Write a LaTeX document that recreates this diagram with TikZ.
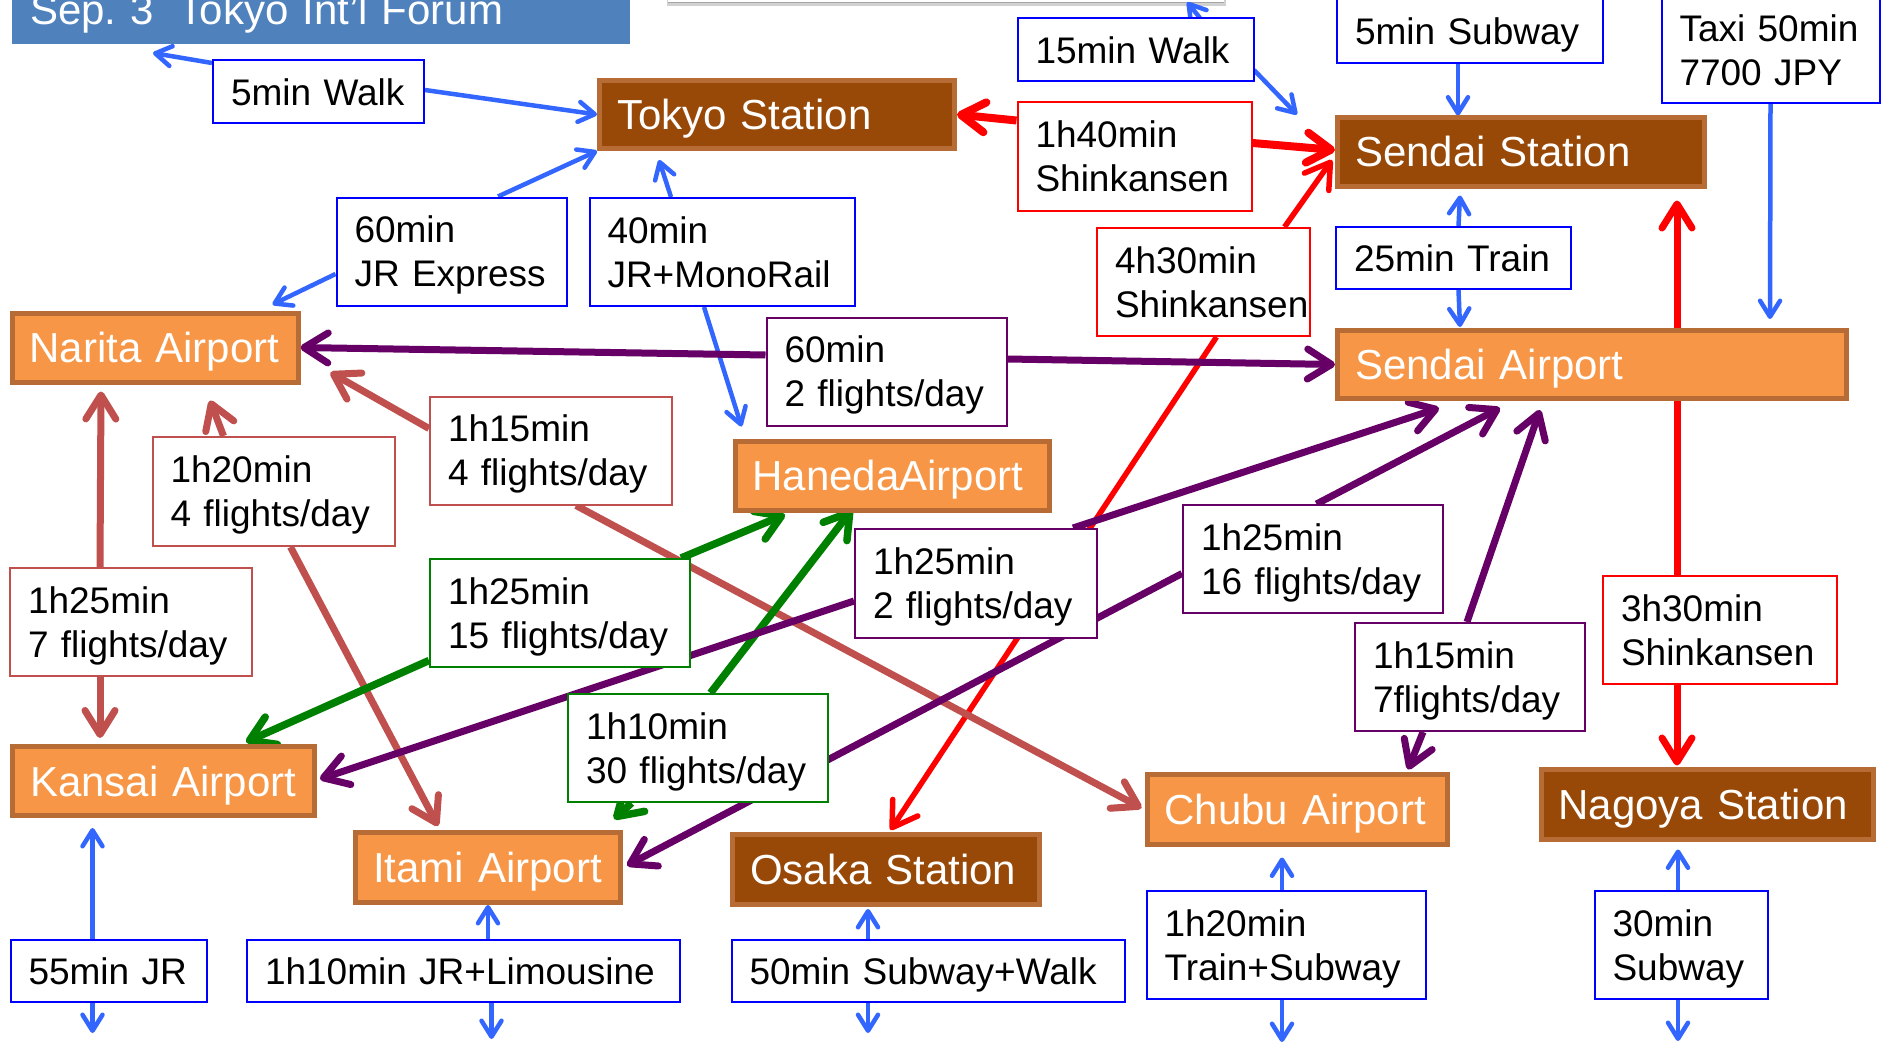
\documentclass[tikz,border=0pt]{standalone}
\usepackage{fontspec}
\setmainfont{Liberation Sans}
\usetikzlibrary{arrows.meta}
\pgfdeclarelayer{bg}
\pgfsetlayers{bg,main}
\hyphenpenalty=10000
\exhyphenpenalty=10000
\definecolor{titleblue}{RGB}{79,129,189}
\definecolor{cblue}{RGB}{51,102,255}
\definecolor{bblue}{RGB}{0,0,255}
\definecolor{orng}{RGB}{247,150,70}
\definecolor{nbord}{RGB}{182,108,52}
\definecolor{dbrown}{RGB}{152,72,7}
\definecolor{rbrown}{RGB}{192,80,77}
\definecolor{grn}{RGB}{0,128,0}
\definecolor{pur}{RGB}{102,0,102}
\definecolor{rred}{RGB}{255,0,0}
\tikzset{
  plc/.style={draw=nbord, line width=5pt, text=white, font=\fontsize{42}{50}\selectfont,
    inner xsep=17.5pt, inner ysep=0pt, align=left, text height=30pt, text depth=0pt},
  lb/.style={fill=white, line width=2pt, text=black, font=\fontsize{37}{44}\selectfont,
    inner xsep=18pt, inner ysep=0pt, align=left, text height=26.5pt, text depth=0pt},
  two/.style={text depth=44pt},
  bigtip/.style={-{Straight Barb[length=24pt,width=30pt,round]}},
  bl/.style={draw=cblue, line width=4.5pt, -{Straight Barb[length=16pt,width=20pt,round]}},
  rdk/.style={draw=rred, line width=8pt, bigtip},
  rd/.style={draw=rred, line width=5.5pt, bigtip},
  rdm/.style={draw=rred, line width=7pt, bigtip},
  rb/.style={draw=rbrown, line width=7pt, bigtip},
  gr/.style={draw=grn, line width=7.5pt, bigtip},
  pu/.style={draw=pur, line width=7pt, bigtip},
}
\newcommand\plnode[7]{\node[plc, fill=#2, minimum width=#5-5, minimum height=#6-5, text width=#5-40] (#1) at (#3,#4) {#7};}
\newcommand\lbnode[7]{\node[lb, #2, minimum width=#5-2, minimum height=#6-2, text width=#5-38] (#1) at (#3,#4) {#7};}
\begin{document}
\begin{tikzpicture}[x=1pt,y=-1pt]
\useasboundingbox (0,0) rectangle (1882,1046);

% partially visible box at the top
\node[fill=white, minimum width=556, minimum height=62, inner sep=0pt] (Top) at (946,-29) {};

% title
\node[fill=titleblue, draw=titleblue, line width=1.5pt, text=white, font=\fontsize{42}{50}\selectfont,
  inner xsep=17pt, inner ysep=0pt, minimum width=617, minimum height=66, text width=582,
  align=left, text height=30pt, text depth=0pt] (Title) at (321,10) {Sep.~3\hspace{25pt}Tokyo~Int’l~Forum};

% places
\plnode{Tokyo}{dbrown}{777}{114.5}{360}{73}{Tokyo~Station}
\plnode{SendaiSt}{dbrown}{1521}{152}{372}{73}{Sendai~Station}
\plnode{SendaiAp}{orng}{1592}{364.5}{514}{73}{Sendai~Airport}
\plnode{Narita}{orng}{155}{347.5}{291}{74}{Narita~Airport}
\plnode{Haneda}{orng}{892}{475.5}{319}{74}{HanedaAirport}
\plnode{Kansai}{orng}{163.5}{781}{307}{74}{Kansai~Airport}
\plnode{Itami}{orng}{488}{867.5}{270}{75}{Itami~Airport}
\plnode{Osaka}{dbrown}{886}{869.5}{312}{75}{Osaka~Station}
\plnode{Chubu}{orng}{1297}{809}{305}{75}{Chubu~Airport}
\plnode{Nagoya}{dbrown}{1707}{804}{337}{75}{Nagoya~Station}

% labels
\lbnode{L5walk}{draw=bblue}{318.5}{92}{213}{65}{5min~Walk}
\lbnode{L15walk}{draw=bblue}{1135.5}{50}{238}{65}{15min~Walk}
\lbnode{L5sub}{draw=bblue}{1470}{31}{268}{66}{5min~Subway}
\lbnode{LTaxi}{draw=bblue,two}{1770.5}{50.5}{220}{107}{Taxi~50min\\7700~JPY}
\lbnode{LJRE}{draw=bblue,two}{451.5}{251.5}{232}{110}{60min\\JR~Express}
\lbnode{LMono}{draw=bblue,two}{722}{252}{267}{110}{40min\\JR+MonoRail}
\lbnode{L25train}{draw=bblue}{1453.5}{258}{237}{64}{25min~Train}
\lbnode{L55JR}{draw=bblue}{108.5}{971}{198}{64}{55min~JR}
\lbnode{LLimo}{draw=bblue}{463.5}{971}{435}{64}{1h10min~JR+Limousine}
\lbnode{LSubWalk}{draw=bblue}{928}{971}{395}{64}{50min~Subway+Walk}
\lbnode{LTrainSub}{draw=bblue,two}{1286}{945}{281}{110}{1h20min\\Train+Subway}
\lbnode{L30sub}{draw=bblue,two}{1681}{945}{175}{110}{30min\\Subway}
\lbnode{L1h40}{draw=rred,two}{1134.5}{156.5}{236}{110}{1h40min\\Shinkansen}
\lbnode{L4h30}{draw=rred,two}{1203.5}{282}{215}{110}{4h30min\\Shinkansen}
\lbnode{L3h30}{draw=rred,two}{1720}{630}{236}{110}{3h30min\\Shinkansen}
\lbnode{L1h20}{draw=rbrown,two}{273.5}{491.5}{244}{111}{1h20min\\4~flights/day}
\lbnode{L1h15}{draw=rbrown,two}{551}{450.5}{244}{110}{1h15min\\4~flights/day}
\lbnode{L1h25r}{draw=rbrown,two}{131}{622}{244}{110}{1h25min\\7~flights/day}
\lbnode{L1h25g}{draw=grn,two}{560}{613}{262}{110}{1h25min\\15~flights/day}
\lbnode{L1h10g}{draw=grn,two}{698}{748}{262}{110}{1h10min\\30~flights/day}
\lbnode{L60p}{draw=pur,two}{886.5}{371.5}{242}{110}{60min\\2~flights/day}
\lbnode{L1h25p2}{draw=pur,two}{976}{583.5}{244}{111}{1h25min\\2~flights/day}
\lbnode{L1h25p16}{draw=pur,two}{1313}{559}{262}{110}{1h25min\\16~flights/day}
\lbnode{L1h15p}{draw=pur,two}{1470}{677}{232}{110}{1h15min\\7flights/day}

\begin{pgfonlayer}{bg}
\fill[white] (0,0) rectangle (1882,1046);
% shadow of the partially visible box at the top
\fill[black!18] (667,-10) rectangle (1226,6);
\fill[black!35] (668,-10) rectangle (1224,3.5);
% blue
\draw[bl] ([shift={(-106.5,-29)}]L5walk.center) -- ([shift={(-168,43)}]Title.center);
\draw[bl] ([shift={(106.5,-2)}]L5walk.center) -- (Tokyo.west);
\draw[bl] ([shift={(64.5,-32)}]L15walk.center) -- ([shift={(-37,0)}]Top.south east);
\draw[bl] ([shift={(118.5,20)}]L15walk.center) -- ([shift={(-38,-1)}]SendaiSt.north west);
\draw[bl] ([shift={(-12,0)}]L5sub.south) -- ([shift={(-63,0)}]SendaiSt.north);
\draw[bl] (LTaxi.south) -- ([shift={(178,-9)}]SendaiAp.north);
\draw[bl] ([shift={(46.5,0)}]LJRE.north) -- (Tokyo.south west);
\draw[bl] ([shift={(0,22.5)}]LJRE.west) -- ([shift={(-28,-6)}]Narita.north east);
\draw[bl] ([shift={(-51,0)}]LMono.north) -- ([shift={(-118,9)}]Tokyo.south);
\draw[bl] ([shift={(-18,0)}]LMono.south) -- ([shift={(9,-12)}]Haneda.north west);
\draw[bl] ([shift={(5,0)}]L25train.north) -- ([shift={(-61,7)}]SendaiSt.south);
\draw[bl] ([shift={(5,0)}]L25train.south) -- ([shift={(-132,-1)}]SendaiAp.north);
\draw[bl] ([shift={(-16,0)}]L55JR.north) -- ([shift={(-71,10)}]Kansai.south);
\draw[bl] ([shift={(-16,0)}]L55JR.south) -- ([shift={(-16,30)}]L55JR.south);
\draw[bl] ([shift={(24.5,0)}]LLimo.north) -- (Itami.south);
\draw[bl] ([shift={(28,0)}]LLimo.south) -- ([shift={(28,36)}]LLimo.south);
\draw[bl] ([shift={(-60,0)}]LSubWalk.north) -- ([shift={(-18,2)}]Osaka.south);
\draw[bl] ([shift={(-60,0)}]LSubWalk.south) -- ([shift={(-60,30)}]LSubWalk.south);
\draw[bl] ([shift={(-4,0)}]LTrainSub.north) -- ([shift={(-15,11)}]Chubu.south);
\draw[bl] ([shift={(-4,0)}]LTrainSub.south) -- ([shift={(-4,42)}]LTrainSub.south);
\draw[bl] ([shift={(-3,0)}]L30sub.north) -- ([shift={(-29,8)}]Nagoya.south);
\draw[bl] ([shift={(-3,0)}]L30sub.south) -- ([shift={(-3,41)}]L30sub.south);
% red
\draw[rdk] ([shift={(0,-36)}]L1h40.west) -- (Tokyo.east);
\draw[rdk] ([shift={(0,-13.5)}]L1h40.east) -- ([shift={(0,-2)}]SendaiSt.west);
\draw[rd] ([shift={(81,0)}]L4h30.north) -- ([shift={(-3,8)}]SendaiSt.west);
\draw[rd] ([shift={(13,0)}]L4h30.south) -- ([shift={(4.5,-2)}]Osaka.north);
\draw[rdm] ([shift={(-43,0)}]L3h30.north) -- ([shift={(156,12)}]SendaiSt.south);
\draw[rdm] ([shift={(-43,0)}]L3h30.south) -- ([shift={(-30,-1)}]Nagoya.north);
% red-brown
\draw[rb] ([shift={(-31,0)}]L1h25r.north) -- ([shift={(-54,7)}]Narita.south);
\draw[rb] ([shift={(-31,0)}]L1h25r.south) -- ([shift={(-63.5,-6)}]Kansai.north);
\draw[rb] ([shift={(-50,0)}]L1h20.north) -- ([shift={(55,16)}]Narita.south);
\draw[rb] ([shift={(17,0)}]L1h20.south) -- ([shift={(-50,-4)}]Itami.north);
\draw[rb] ([shift={(0,-22)}]L1h15.west) -- ([shift={(30,-12)}]Narita.south east);
\draw[rb] ([shift={(25,0)}]L1h15.south) -- ([shift={(-3,-1)}]Chubu.west);
% green
\draw[gr] ([shift={(121,0)}]L1h25g.north) -- ([shift={(-107,2)}]Haneda.south);
\draw[gr] ([shift={(0,47.5)}]L1h25g.west) -- ([shift={(-71,-2)}]Kansai.north east);
\draw[gr] ([shift={(12.5,0)}]L1h10g.north) -- ([shift={(-40,-3)}]Haneda.south);
\draw[gr] ([shift={(-66.5,0)}]L1h10g.south) -- ([shift={(-9,-11)}]Itami.north east);
% purple
\draw[pu] ([shift={(0,-16.5)}]L60p.west) -- (Narita.east);
\draw[pu] ([shift={(0,-12.5)}]L60p.east) -- (SendaiAp.west);
\draw[pu] ([shift={(97,0)}]L1h25p2.north) -- ([shift={(-153,7)}]SendaiAp.south);
\draw[pu] ([shift={(0,17.5)}]L1h25p2.west) -- ([shift={(3,-2)}]Kansai.east);
\draw[pu] ([shift={(3.5,0)}]L1h25p16.north) -- ([shift={(-92,7)}]SendaiAp.south);
\draw[pu] ([shift={(0,14.5)}]L1h25p16.west) -- ([shift={(4,-2)}]Itami.east);
\draw[pu] ([shift={(-3,0)}]L1h15p.north) -- ([shift={(-52,9)}]SendaiAp.south);
\draw[pu] ([shift={(-47,0)}]L1h15p.south) -- ([shift={(111,-2)}]Chubu.north);
\end{pgfonlayer}
\end{tikzpicture}
\end{document}
